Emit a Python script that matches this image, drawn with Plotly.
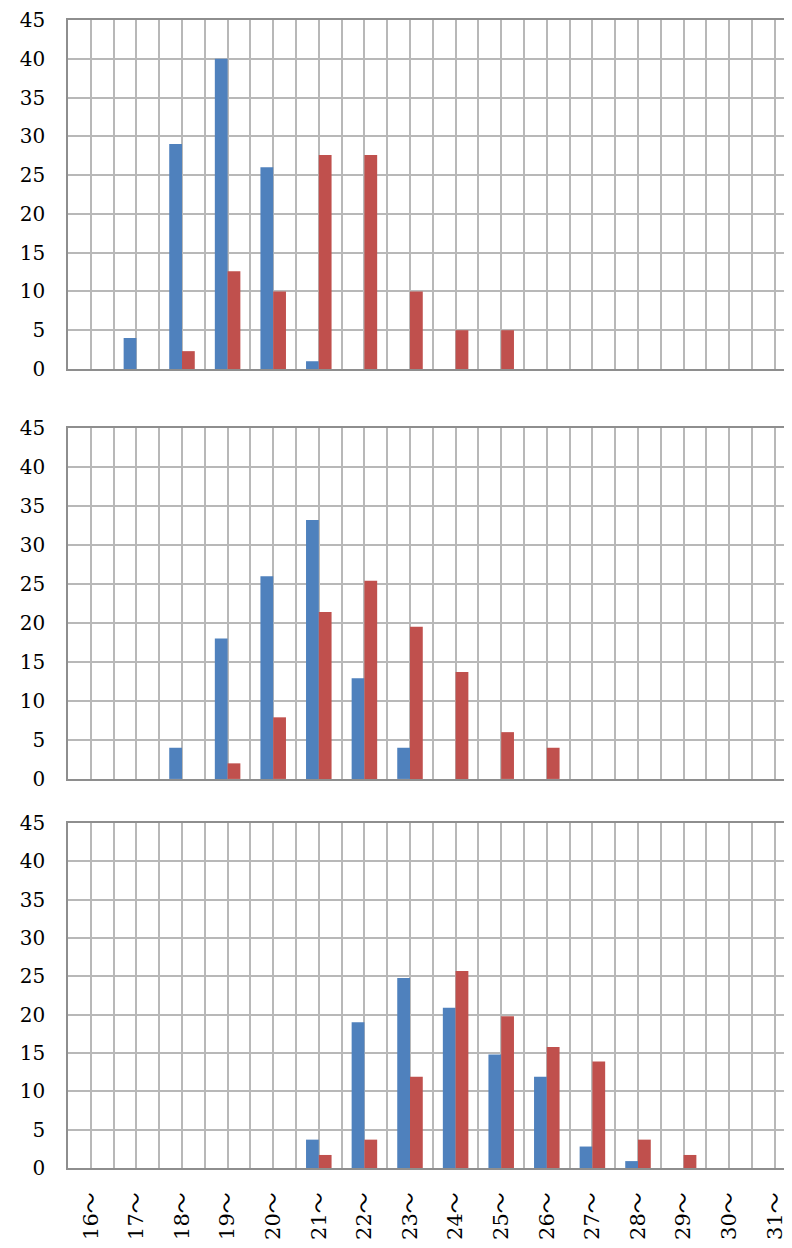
import plotly.graph_objects as go

categories = ["16〜", "17〜", "18〜", "19〜", "20〜", "21〜", "22〜", "23〜",
              "24〜", "25〜", "26〜", "27〜", "28〜", "29〜", "30〜", "31〜"]

p1_blue = [0, 4, 29, 40, 26, 1, 0, 0, 0, 0, 0, 0, 0, 0, 0, 0]
p1_red = [0, 0, 2.3, 12.6, 10, 27.6, 27.6, 10, 5, 5, 0, 0, 0, 0, 0, 0]

p2_blue = [0, 0, 4, 18, 26, 33.2, 12.9, 4, 0, 0, 0, 0, 0, 0, 0, 0]
p2_red = [0, 0, 0, 2, 7.9, 21.4, 25.4, 19.5, 13.7, 6, 4, 0, 0, 0, 0, 0]

p3_blue = [0, 0, 0, 0, 0, 3.7, 19, 24.8, 20.9, 14.8, 11.9, 2.8, 0.9, 0, 0, 0]
p3_red = [0, 0, 0, 0, 0, 1.7, 3.7, 11.9, 25.7, 19.8, 15.8, 13.9, 3.7, 1.7, 0, 0]

y_ticks = [0, 5, 10, 15, 20, 25, 30, 35, 40, 45]

BLUE = "#4F81BD"
RED = "#C0504D"
GRID = "#B8B8B8"
BORDER = "#8E8E8E"
FONT = "DejaVu Serif, Noto Sans CJK JP"

n = len(categories)
xpos = list(range(n))
grid_vals = [i / 2 - 0.5 for i in range(2 * n + 1)]

panels = [(p1_blue, p1_red), (p2_blue, p2_red), (p3_blue, p3_red)]
domains = [[0.696, 1.0], [0.3389, 0.6446], [0.0, 0.3005]]

fig = go.Figure()
for i, (b, r) in enumerate(panels):
    ax = "" if i == 0 else str(i + 1)
    fig.add_trace(go.Bar(x=xpos, y=b, marker=dict(color=BLUE, line=dict(width=0)),
                         xaxis="x" + ax, yaxis="y" + ax, showlegend=False))
    fig.add_trace(go.Bar(x=xpos, y=r, marker=dict(color=RED, line=dict(width=0)),
                         xaxis="x" + ax, yaxis="y" + ax, showlegend=False))

layout = dict(
    width=784, height=1232,
    margin=dict(l=60, r=0, t=12, b=72),
    paper_bgcolor="white", plot_bgcolor="white",
    barmode="group", bargap=0.44, bargroupgap=0,
    showlegend=False,
)

for i in range(3):
    ax = "" if i == 0 else str(i + 1)
    last = (i == 2)
    ticktext = []
    for v in grid_vals:
        if abs(v - round(v)) < 1e-9 and 0 <= round(v) < n and last:
            ticktext.append(categories[int(round(v))])
        else:
            ticktext.append("")
    layout["xaxis" + ax] = dict(
        domain=[0, 1], anchor="y" + ax,
        range=[-0.5, 15.377],
        tickmode="array", tickvals=grid_vals, ticktext=ticktext,
        showgrid=True, gridcolor=GRID, gridwidth=1.5,
        showline=True, linecolor=BORDER, linewidth=1.5, mirror=True,
        zeroline=False, ticks="", tickangle=-90,
        showticklabels=last,
        tickfont=dict(family=FONT, size=21, color="#000"),
        ticklabelstandoff=14,
        ticklabeloverflow="allow",
        automargin=False,
        fixedrange=True,
    )
    layout["yaxis" + ax] = dict(
        domain=domains[i], anchor="x" + ax,
        range=[0, 45],
        tickmode="array", tickvals=y_ticks, ticktext=[str(v) for v in y_ticks],
        showgrid=True, gridcolor=GRID, gridwidth=1.5,
        showline=True, linecolor=BORDER, linewidth=1.5, mirror=True,
        zeroline=False, ticks="",
        tickfont=dict(family=FONT, size=20, color="#000"),
        ticklabelstandoff=17,
        ticklabeloverflow="allow",
        automargin=False,
        fixedrange=True,
    )

fig.update_layout(**layout)
fig.write_html("out.html")
